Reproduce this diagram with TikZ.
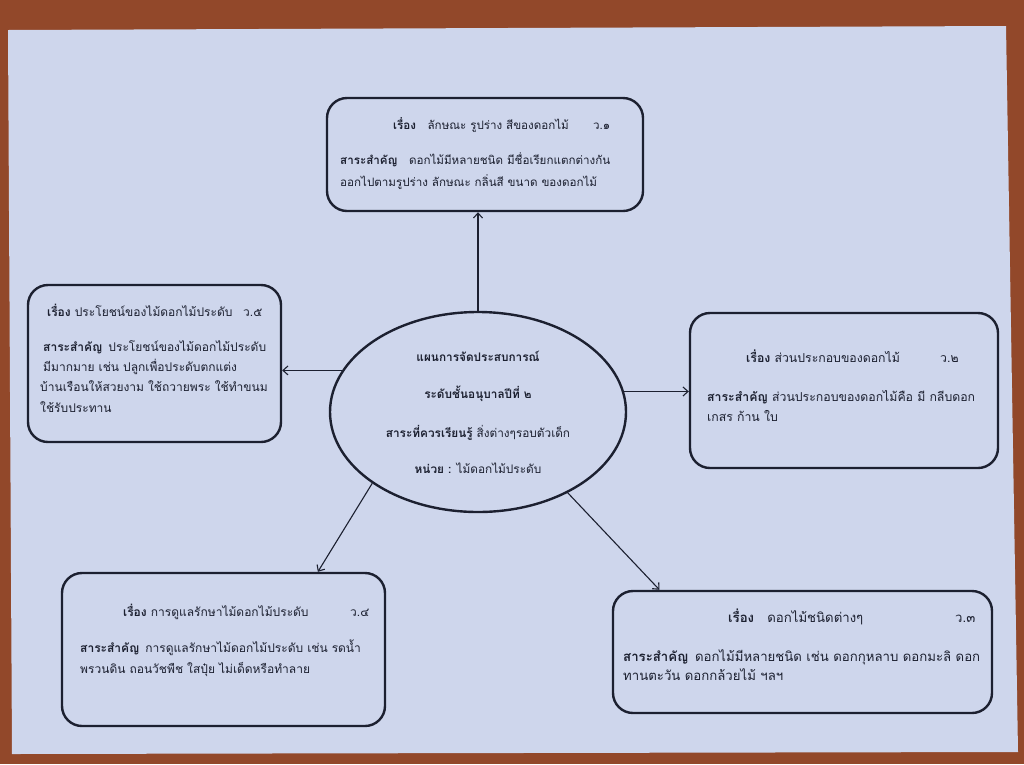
\documentclass[tikz,border=0pt]{standalone}
\usepackage{fontspec}
\newfontfamily\thaifont[Script=Thai]{Loma}
\usetikzlibrary{calc,shapes.geometric,arrows.meta}
\definecolor{paper}{RGB}{206,214,236}
\definecolor{floor}{RGB}{146,72,42}
\definecolor{ink}{RGB}{28,32,48}

\begin{document}
\begin{tikzpicture}[x=1pt, y=-1pt, >={Straight Barb[length=5pt,width=9pt]},
  box/.style={draw=ink, line width=2.4pt, rounded corners=20pt, inner sep=0pt},
  txt/.style={anchor=base west, inner sep=0pt, text=ink, font=\thaifont\fontsize{#1}{14}\selectfont},
  txt/.default=12,
  arr/.style={->, draw=ink, line width=1.1pt}]
  \useasboundingbox (0,0) rectangle (1024,764);
  \fill[floor] (0,0) rectangle (1024,764);
  \fill[paper] (8,30) -- (1006,26) -- (1018,752) -- (12,754) -- cycle;

  \node[box, minimum width=316pt, minimum height=113pt] (boxt) at (485,154.5) {};
  \node[box, minimum width=253pt, minimum height=157pt] (boxl) at (154.5,363.5) {};
  \node[box, minimum width=308pt, minimum height=155pt] (boxr) at (844,390.5) {};
  \node[box, minimum width=323pt, minimum height=153pt] (boxbl) at (223.5,649.5) {};
  \node[box, minimum width=379pt, minimum height=122pt] (boxbr) at (802.5,652) {};

  \node[draw=ink, line width=2.4pt, ellipse, minimum width=296pt, minimum height=200pt,
    inner sep=0pt, align=center, text=ink, font=\thaifont\fontsize{11.8}{13}\selectfont] (hub) at (478,412)
    {\textbf{แผนการจัดประสบการณ์}\\[24pt]
     \textbf{ระดับชั้นอนุบาลปีที่ ๒}\\[23pt]
     \textbf{สาระที่ควรเรียนรู้} สิ่งต่างๆรอบตัวเด็ก\\[21pt]
     \textbf{หน่วย :} ไม้ดอกไม้ประดับ};

  % top
  \node[txt=11.6] (t1) at (393,129) {\textbf{เรื่อง}\quad ลักษณะ รูปร่าง สีของดอกไม้};
  \node[txt=11.6] (t1n) at (593,129) {ว.๑};
  \node[txt=11.6] (t1a) at (340,164) {\textbf{สาระสำคัญ}\quad ดอกไม้มีหลายชนิด มีชื่อเรียกแตกต่างกัน};
  \node[txt=11.6] (t1b) at (340,186) {ออกไปตามรูปร่าง ลักษณะ กลิ่นสี ขนาด ของดอกไม้};

  % right
  \node[txt=12.3] (t2) at (746,362) {\textbf{เรื่อง} ส่วนประกอบของดอกไม้};
  \node[txt=12.3] (t2n) at (940,362) {ว.๒};
  \node[txt=12.3] (t2a) at (707,401) {\textbf{สาระสำคัญ} ส่วนประกอบของดอกไม้คือ มี กลีบดอก};
  \node[txt=12.3] (t2b) at (707,421) {เกสร ก้าน ใบ};

  % bottom right
  \node[txt=13.2] (t3) at (728,622) {\textbf{เรื่อง}\quad ดอกไม้ชนิดต่างๆ};
  \node[txt=13.2] (t3n) at (955,622) {ว.๓};
  \node[txt=13.2] (t3a) at (623,661) {\textbf{สาระสำคัญ}\enspace ดอกไม้มีหลายชนิด เช่น ดอกกุหลาบ ดอกมะลิ ดอก};
  \node[txt=13.2] (t3b) at (623,680) {ทานตะวัน ดอกกล้วยไม้ ฯลฯ};

  % bottom left
  \node[txt=12] (t4) at (123,616) {\textbf{เรื่อง} การดูแลรักษาไม้ดอกไม้ประดับ};
  \node[txt=12] (t4n) at (350,616) {ว.๔};
  \node[txt=12] (t4a) at (80,652) {\textbf{สาระสำคัญ}\enspace การดูแลรักษาไม้ดอกไม้ประดับ เช่น รดน้ำ};
  \node[txt=12] (t4b) at (80,673) {พรวนดิน ถอนวัชพืช ใสปุ๋ย ไม่เด็ดหรือทำลาย};

  % left
  \node[txt=12] (t5) at (47,316) {\textbf{เรื่อง} ประโยชน์ของไม้ดอกไม้ประดับ};
  \node[txt=12] (t5n) at (243,316) {ว.๕};
  \node[txt=12] (t5a) at (43,351) {\textbf{สาระสำคัญ}\enspace ประโยชน์ของไม้ดอกไม้ประดับ};
  \node[txt=12] (t5b) at (43,371) {มีมากมาย เช่น ปลูกเพื่อประดับตกแต่ง};
  \node[txt=12] (t5c) at (40,391) {บ้านเรือนให้สวยงาม ใช้ถวายพระ ใช้ทำขนม};
  \node[txt=12] (t5d) at (40,412) {ใช้รับประทาน};

  \draw[arr] (hub.north) -- (hub.north |- boxt.south);
  \draw[arr] (hub.8) -- (hub.8 -| boxr.west);
  \draw[arr] (hub.163) -- (hub.163 -| boxl.east);
  \draw[arr] (hub.214) -- ($(boxbl.north west)!0.79!(boxbl.north east)$);
  \draw[arr] (hub.318) -- ($(boxbr.north west)!0.125!(boxbr.north east)$);
\end{tikzpicture}
\end{document}
